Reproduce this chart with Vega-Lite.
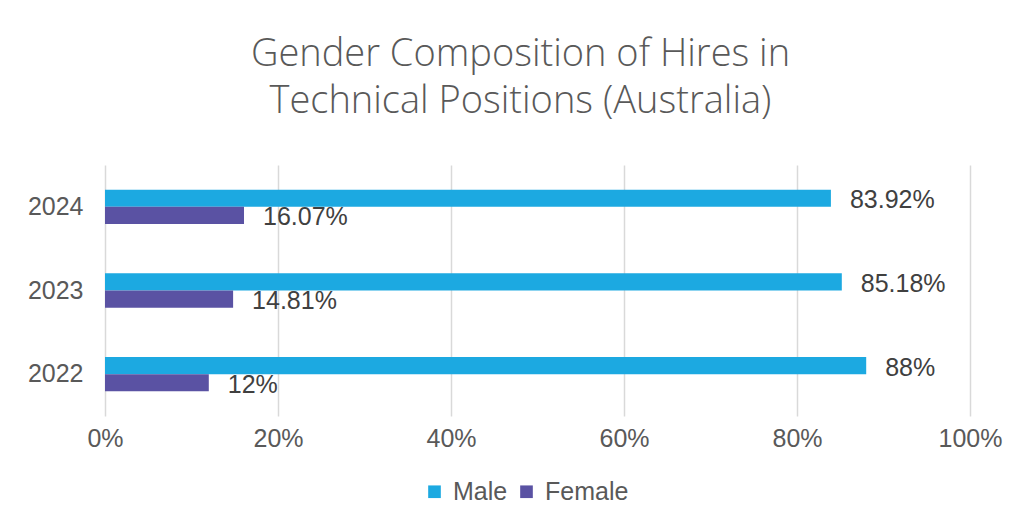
{
  "$schema": "https://vega.github.io/schema/vega-lite/v6.json",
  "width": 865,
  "height": 251,
  "autosize": {"type": "none"},
  "padding": {"left": 105, "top": 165, "right": 63, "bottom": 114},
  "background": "white",
  "title": {
    "text": ["Gender Composition of Hires in", "Technical Positions (Australia)"],
    "font": "Open Sans",
    "fontWeight": 300,
    "fontSize": 38,
    "lineHeight": 47,
    "color": "#595959",
    "anchor": "middle",
    "dx": -17,
    "offset": 44
  },
  "data": {
    "values": [
      {"year": "2024", "gender": "Male", "value": 0.8392},
      {"year": "2024", "gender": "Female", "value": 0.1607},
      {"year": "2023", "gender": "Male", "value": 0.8518},
      {"year": "2023", "gender": "Female", "value": 0.1481},
      {"year": "2022", "gender": "Male", "value": 0.88},
      {"year": "2022", "gender": "Female", "value": 0.12}
    ]
  },
  "encoding": {
    "y": {
      "field": "year",
      "type": "nominal",
      "sort": "descending",
      "title": null,
      "scale": {"paddingInner": 0.59, "paddingOuter": 0.295},
      "axis": {
        "domain": false,
        "ticks": false,
        "labelPadding": 22,
        "labelFont": "Liberation Sans",
        "labelFontSize": 25,
        "labelColor": "#595959"
      }
    },
    "yOffset": {"field": "gender", "type": "nominal", "sort": ["Male", "Female"]},
    "x": {
      "field": "value",
      "type": "quantitative",
      "title": null,
      "scale": {"domain": [0, 1], "nice": false},
      "axis": {
        "format": ".0%",
        "values": [0, 0.2, 0.4, 0.6, 0.8, 1],
        "domain": false,
        "ticks": false,
        "grid": true,
        "gridColor": "#d9d9d9",
        "gridWidth": 1.5,
        "labelFlush": false,
        "labelPadding": 10,
        "labelFont": "Liberation Sans",
        "labelFontSize": 25,
        "labelColor": "#595959"
      }
    }
  },
  "layer": [
    {
      "mark": {"type": "bar"},
      "encoding": {
        "color": {
          "field": "gender",
          "type": "nominal",
          "sort": ["Male", "Female"],
          "scale": {"domain": ["Male", "Female"], "range": ["#1CA9E1", "#5A52A3"]},
          "legend": {
            "title": null,
            "orient": "none",
            "legendX": 317,
            "legendY": 314,
            "direction": "horizontal",
            "symbolType": "square",
            "symbolSize": 160,
            "symbolStrokeWidth": 0,
            "labelFont": "Liberation Sans",
            "labelFontSize": 25,
            "labelColor": "#595959",
            "columnPadding": 6,
            "labelOffset": 6
          }
        }
      }
    },
    {
      "mark": {
        "type": "text",
        "align": "left",
        "baseline": "middle",
        "dx": 19,
        "dy": 2,
        "font": "Liberation Sans",
        "fontSize": 25,
        "color": "#404040"
      },
      "encoding": {
        "text": {"field": "value", "type": "quantitative", "format": ".2~%"}
      }
    }
  ],
  "config": {"view": {"stroke": null}}
}
